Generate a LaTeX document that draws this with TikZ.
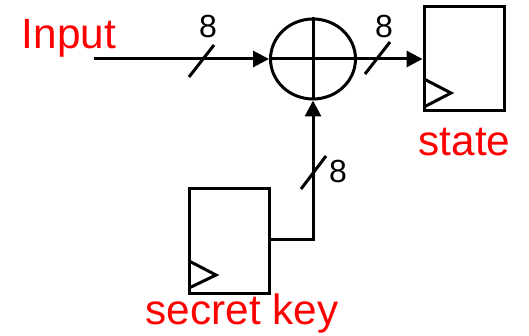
\documentclass[tikz,border=0pt]{standalone}
\usepackage{fontspec}
\setmainfont{Liberation Sans}
\usetikzlibrary{arrows.meta,shapes.geometric}
\tikzset{
  x=1pt,y=-1pt,
  wire/.style={line width=3pt,draw=black},
  flow/.style={wire,-{Triangle[length=16pt,width=16pt]}},
  regbox/.style={draw=black,line width=3pt,minimum width=80pt,minimum height=104pt,inner sep=0pt,fill=white},
  xorc/.style={draw=black,line width=3pt,ellipse,minimum width=85pt,minimum height=80pt,inner sep=0pt},
  redlabel/.style={text=red,font=\fontsize{42.3}{42}\selectfont,inner sep=0pt},
  numlabel/.style={text=black,font=\fontsize{32}{32}\selectfont,inner sep=0pt},
}
\begin{document}
\begin{tikzpicture}
\useasboundingbox (0,0) rectangle (529,336);
\node[regbox] (state) at (464,59) {};
\node[regbox] (key) at (229,241) {};
\node[xorc] (xor) at (313,59) {};
\coordinate (in) at (94,59);
\coordinate (corner) at (313,240);
\coordinate (keyout) at (269,240);
\draw[wire] (xor.north) -- (xor.south);
\draw[wire] (xor.west) -- (xor.east);
\draw[flow] (in) -- (xor.west);
\draw[flow] (xor.east) -- (state.west);
\draw[flow] (keyout) -- (corner) -- (xor.south);
\draw[wire,line join=miter] (424,79) -- (451,93) -- (424,107);
\draw[wire,line join=miter] (189,261) -- (216,275) -- (189,288);
\draw[wire] (189,77) -- (214,45);
\draw[wire] (365,74) -- (390,42);
\draw[wire] (301,189) -- (326,156);
\node[numlabel] (n1) at (208,26) {8};
\node[numlabel] (n2) at (384,26) {8};
\node[numlabel] (n3) at (338,171) {8};
\node[redlabel] (linput) at (69,38) {Input};
\node[redlabel] (lstate) at (464.5,142) {state};
\node[redlabel] (lkey) at (242,314) {secret key};
\end{tikzpicture}
\end{document}
